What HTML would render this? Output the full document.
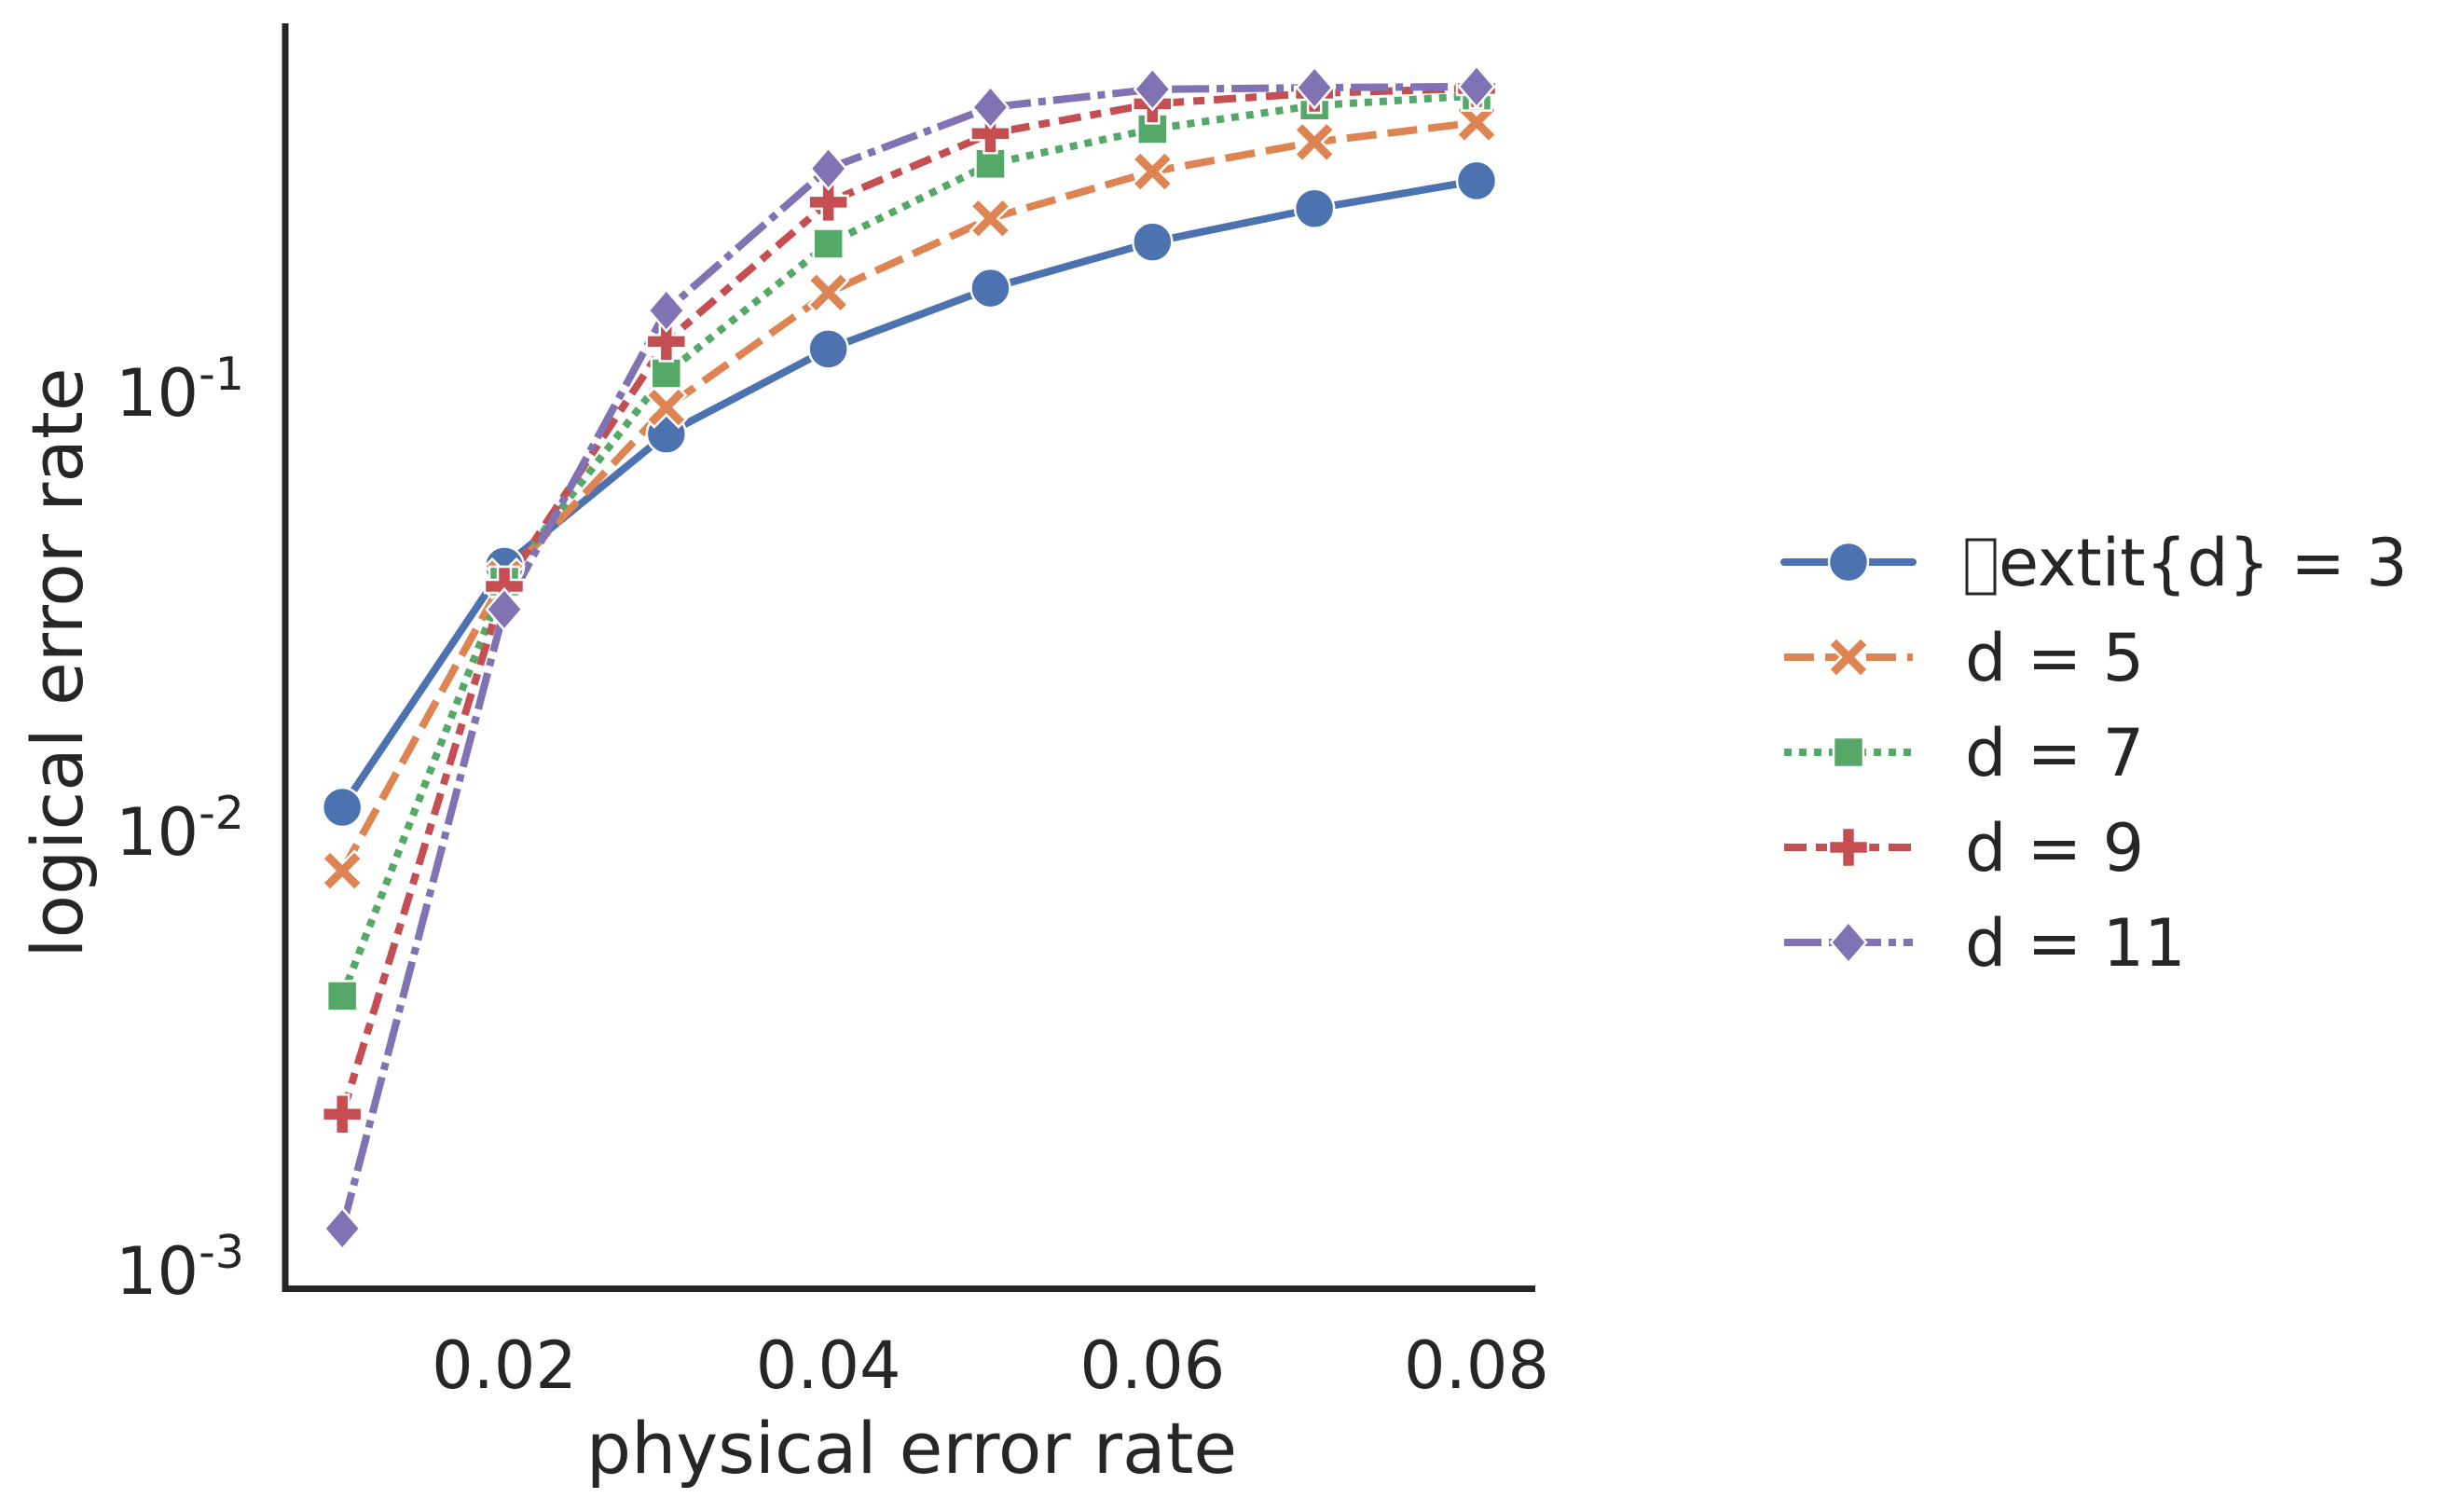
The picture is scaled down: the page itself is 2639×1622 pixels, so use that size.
<!DOCTYPE html>
<html><head><meta charset="utf-8"><style>
html,body{margin:0;padding:0;background:#fff}
svg{display:block}
text{font-family:"DejaVu Sans","Liberation Sans",sans-serif;fill:#262626}
</style></head><body>
<svg id="chart" width="2639" height="1622" viewBox="0 0 2639 1622" xmlns="http://www.w3.org/2000/svg">
<g id="plot"></g>
<line x1="306" y1="25" x2="306" y2="1386" stroke="#262626" stroke-width="7"/>
<line x1="302.5" y1="1382.5" x2="1647" y2="1382.5" stroke="#262626" stroke-width="7"/>
<g id="xticks"></g>
<g id="yticks"></g>
<text x="978" y="1580" font-size="76" text-anchor="middle">physical error rate</text>
<text transform="translate(88,711) rotate(-90)" font-size="76" text-anchor="middle">logical error rate</text>
<g id="legend"></g>
</svg>
<script>
const xValues = [0.01, 0.02, 0.03, 0.04, 0.05, 0.06, 0.07, 0.08];
const seriesD3 = [0.0113, 0.040, 0.080, 0.125, 0.172, 0.219, 0.261, 0.302];
const seriesD5 = [0.0081, 0.0375, 0.092, 0.168, 0.248, 0.317, 0.370, 0.410];
const seriesD7 = [0.0042, 0.0369, 0.110, 0.217, 0.330, 0.396, 0.448, 0.472];
const seriesD9 = [0.00226, 0.036, 0.130, 0.270, 0.387, 0.452, 0.478, 0.490];
const seriesD11 = [0.00124, 0.0319, 0.153, 0.322, 0.444, 0.488, 0.492, 0.495];
const legendLabels = ["extit{d} = 3", "d = 5", "d = 7", "d = 9", "d = 11"];
const xTickValues = [0.02, 0.04, 0.06, 0.08];
const xTickLabels = ["0.02", "0.04", "0.06", "0.08"];
const yTickExponents = [-1, -2, -3];

const NS = "http://www.w3.org/2000/svg";
function xScale(v){ return 541 + (v - 0.02) * 17383; }
function yScale(v){ return 420 + (-1 - Math.log10(v)) * 471; }
function mk(tag, attrs, parent){
  const e = document.createElementNS(NS, tag);
  for (const k in attrs) e.setAttribute(k, attrs[k]);
  parent.appendChild(e);
  return e;
}
const series = [
  {vals: seriesD3, color: "#4c72b0", dash: "", cap: "round", marker: "circle", name: "d3"},
  {vals: seriesD5, color: "#dd8452", dash: "32 12", cap: "butt", marker: "x", name: "d5"},
  {vals: seriesD7, color: "#55a868", dash: "8 8", cap: "butt", marker: "square", name: "d7"},
  {vals: seriesD9, color: "#c44e52", dash: "24 10 12 10", cap: "butt", marker: "plus", name: "d9"},
  {vals: seriesD11, color: "#8172b3", dash: "40 8 8 8", cap: "butt", marker: "diamond", name: "d11"}
];
function drawMarker(type, cx, cy, color, parent){
  let e;
  if (type === "circle") {
    e = mk("circle", {cx: cx, cy: cy, r: 21, fill: color, stroke: "#fff", "stroke-width": 2.5}, parent);
  } else if (type === "square") {
    e = mk("rect", {x: cx-16, y: cy-16, width: 32, height: 32, fill: color, stroke: "#fff", "stroke-width": 2.5}, parent);
  } else if (type === "diamond") {
    e = mk("path", {d: `M${cx} ${cy-22}L${cx+19} ${cy}L${cx} ${cy+22}L${cx-19} ${cy}Z`, fill: color, stroke: "#fff", "stroke-width": 2.5}, parent);
  } else if (type === "plus") {
    const a = 21, b = 7;
    e = mk("path", {d: `M${cx-b} ${cy-a}H${cx+b}V${cy-b}H${cx+a}V${cy+b}H${cx+b}V${cy+a}H${cx-b}V${cy+b}H${cx-a}V${cy-b}H${cx-b}Z`, fill: color, stroke: "#fff", "stroke-width": 2.5}, parent);
  } else {
    const a = 21, b = 8;
    e = mk("path", {d: `M${cx-a} ${cy-a+b}L${cx-a+b} ${cy-a}L${cx} ${cy-b}L${cx+a-b} ${cy-a}L${cx+a} ${cy-a+b}L${cx+b} ${cy}L${cx+a} ${cy+a-b}L${cx+a-b} ${cy+a}L${cx} ${cy+b}L${cx-a+b} ${cy+a}L${cx-a} ${cy+a-b}L${cx-b} ${cy}Z`, fill: color, stroke: "#fff", "stroke-width": 2.5}, parent);
  }
  return e;
}
const plot = document.getElementById("plot");
series.forEach(s => {
  const pts = s.vals.map((v,i) => xScale(xValues[i]).toFixed(1) + "," + yScale(v).toFixed(1)).join(" ");
  const line = mk("polyline", {points: pts, fill: "none", stroke: s.color, "stroke-width": 8, "stroke-dasharray": s.dash, "stroke-linecap": s.cap, "stroke-linejoin": "round"}, plot);
  
  
});
series.forEach(s => {
  s.vals.forEach((v,i) => {
    const m = drawMarker(s.marker, xScale(xValues[i]), yScale(v), s.color, plot);
    
    
  });
});
const xt = document.getElementById("xticks");
xTickValues.forEach((v,i) => {
  const t = mk("text", {x: xScale(v), y: 1489, "font-size": 70, "text-anchor": "middle"}, xt);
  t.textContent = xTickLabels[i];
  
  
});
const yt = document.getElementById("yticks");
yTickExponents.forEach(ex => {
  const y = yScale(Math.pow(10, ex));
  const t = mk("text", {x: 124, y: y + 26, "font-size": 70}, yt);
  t.textContent = "10";
  const s = mk("tspan", {dy: -28, "font-size": 49}, t);
  s.textContent = "-" + (-ex);
  
  
});
const lg = document.getElementById("legend");
series.forEach((s,i) => {
  const cy = 603 + i * 102;
  const g = mk("g", {}, lg);
  
  
  mk("line", {x1: 1914, y1: cy, x2: 2052, y2: cy, stroke: s.color, "stroke-width": 8, "stroke-dasharray": s.dash, "stroke-linecap": s.cap}, g);
  drawMarker(s.marker, 1983, cy, s.color, g);
  if (i === 0) {
    mk("rect", {x: 2110, y: cy - 24, width: 30, height: 58, fill: "none", stroke: "#262626", "stroke-width": 3}, g);
    const t = mk("text", {x: 2144, y: cy + 25, "font-size": 70}, g);
    t.textContent = legendLabels[i];
  } else {
    const t = mk("text", {x: 2108, y: cy + 25, "font-size": 70}, g);
    t.textContent = legendLabels[i];
  }
});
</script>
</body></html>
